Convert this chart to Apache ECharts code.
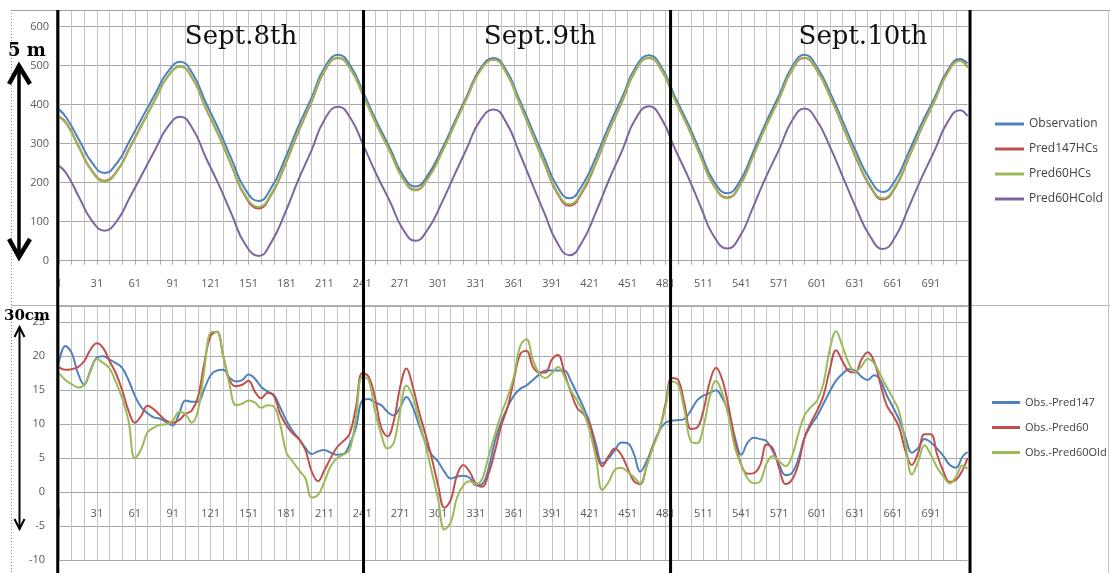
<!DOCTYPE html>
<html><head><meta charset="utf-8">
<script src="https://cdn.jsdelivr.net/npm/echarts@6/dist/echarts.min.js"></script>
<style>html,body{margin:0;padding:0;background:#fff;}#c{width:1110px;height:573px;}</style>
</head><body><div id="c"></div>
<script>
// ---------- categories (time steps) ----------
const categories = [];
for (let i = 1; i <= 720; i++) categories.push(String(i));

// ---------- top panel: tide level (cm) ----------
const topX = [1,7,17,27,37,47,57,67,77,87,97,107,117,128,138,148,159,169,180,190,201,211,222,232,242,252,263,273,283,293,304,314,324,334,345,355,365,375,385,395,405,415,426,436,447,457,468,478,488,499,509,519,530,540,550,560,571,581,591,601,612,622,632,643,653,663,673,683,694,704,714,720];
const observation = [388,366,309,252,225, 251,308,368,427,484,510, 478,407,332,257,185,153, 187,262,341,419,494,528, 498,430,359,288,220,190, 220,286,355,424,490,520, 488,416,340,264,192,160, 193,266,344,421,494,527, 495,424,350,276,205,173, 205,276,351,425,496,528, 496,426,352,278,208,176, 207,275,347,418,486,517, 506];
const pred147HCs = [370,352,290,231,205, 231,290,352,413,472,498, 465,392,316,240,167,134, 169,246,327,408,485,520, 490,422,351,280,212,182, 212,279,349,419,486,516, 482,407,329,250,175,141, 175,251,331,410,486,520, 488,416,341,266,194,162, 194,266,341,416,488,520, 487,415,339,262,190,157, 189,260,335,410,481,513, 497];
const pred60HCs = [368,350,288,229,203, 229,288,350,412,471,497, 465,393,318,242,170,138, 172,249,330,410,487,521, 490,422,351,279,211,180, 210,277,348,418,485,515, 482,408,330,252,178,145, 179,254,333,412,487,521, 489,416,341,265,193,160, 193,265,341,416,489,521, 489,416,341,265,193,160, 192,262,336,410,480,512, 495];
const pred60HCold = [243,223,162,103,77, 103,162,223,284,343,369, 337,266,191,116,44,12, 47,123,204,284,361,395, 364,295,223,151,82,51, 81,149,220,290,358,388, 354,280,201,123,48,14, 48,125,205,285,362,396, 363,290,214,137,64,31, 63,135,211,286,358,390, 358,286,210,134,62,30, 62,133,208,283,354,386, 371];

// ---------- bottom panel: differences (cm) ----------
const bottomX = [1,6,11,16,21,26,31,36,41,46,51,56,61,66,71,76,81,86,91,96,101,106,111,116,121,126,131,136,141,146,151,156,161,166,171,176,181,186,191,196,201,206,211,216,221,226,231,236,241,246,251,256,261,266,271,276,281,286,291,296,301,306,311,316,321,326,331,336,341,346,351,356,361,366,371,376,381,386,391,396,401,406,411,416,421,426,431,436,441,446,451,456,461,466,471,476,481,486,491,496,501,506,511,516,521,526,531,536,541,546,551,556,561,566,571,576,581,586,591,596,601,606,611,616,621,626,631,636,641,646,651,656,661,666,671,676,681,686,691,696,701,706,711,716,720];
const obsPred147 = [19.1,21.5,20.5,17.5,15.8,18,19.8,20,19.5,19,
18.3,16.5,14.2,12.5,11.6,11,10.8,10.3,9.8,11.5,
13.5,13.3,13.3,15.2,17.2,17.9,18,16.8,16.3,16.5,
17.3,16.7,15.5,14.8,14.3,12.5,10.5,9,7.8,6.5,
5.6,6,6.2,5.8,5.5,5.6,7,9.5,13.5,13.7,
13.2,12.8,11.8,11.3,12.5,14,12.5,9.8,7.3,5.5,
4.5,3,2,2.3,2.4,2.1,1,1.2,3.5,7.5,
10.3,12.5,14.2,15.2,15.7,16.5,17.3,17.9,17.9,17.9,
17.9,16.4,14.5,12.5,10.2,7,4.2,5,6.2,7.3,
7.2,5.6,3,4.5,6.8,9,10.2,10.5,10.6,10.8,
12,13.5,14.2,14.6,15,13.8,11.8,8,5.5,7.3,
8,7.8,7.5,6,4,2.5,2.8,4.8,8,9.8,
11.2,13,14.8,16.4,17.4,18.1,17.9,17,16.5,17.2,
16.5,14.3,12.5,10.6,8,5.8,6.5,7.8,7.3,6.4,
5.3,4,3.6,5.2,5.9];
const obsPred60 = [18.4,18,18.1,18.4,19.3,21,21.9,21.2,19.3,17.5,
15,12,10.2,11.2,12.7,12.2,11.3,10.5,10.2,10.6,
11.5,12,14,19,23,23.6,20,16.5,15.6,15.8,
16.4,14.8,13.8,14.6,14.2,11.5,9.8,8.6,7.8,6.2,
3,1.6,3.2,5,6.6,7.5,8.6,12.5,17.5,17,
14,9.5,8.2,10.5,15.5,18.2,15.5,11.8,8.5,5,
1,-2.3,-1.2,2.5,4,3,1.2,0.8,2.7,6,
9.8,12.5,16.5,20.3,20.8,18.5,17.6,17.6,19.5,20.2,
17.5,14.8,12.4,11.5,10,6,3.8,5.3,6.4,5.5,
3.5,1.6,1.2,3.8,6.8,9,13,16.8,16.5,13,
9.3,9.5,12,16.2,18.3,16.5,12.5,7.5,4,2.7,
2.8,4,7,6.4,3.5,1.2,1.8,4,8,10.2,
12,14.2,18,20.9,19.3,17.8,17.6,19.5,20.6,19.3,
16,12.8,11.3,9.5,6,4,5.8,8.5,8.5,5.5,
3,1.5,1.8,3.2,5];
const obsPred60Old = [17.5,16.5,15.9,15.4,15.8,17.8,19.6,19,18.2,16.2,
13.8,10.5,5,6.3,8.8,9.5,9.9,10,10.5,11.8,
11.5,10.2,12,18,23.5,23.6,20,15.8,12.8,13,
13.5,13.2,12.4,12.8,12.6,10,5.8,4.5,3.2,2,
-0.8,-0.4,1.5,3.8,5,5.5,6.2,11,17,16.5,
12,8.5,6.4,7.3,12,15.7,14,10.5,7,3,
-1,-5.5,-4.5,-0.8,1,1.6,1.2,2,5.3,8.5,
11.5,14,17,21.5,22.5,19.5,17.5,16.8,17.5,18.4,
17,15,13.5,11.8,9,5,0.3,1.5,3.3,3.6,
3,2.2,1.3,3.8,6.5,9,12.5,16.3,15.8,12,
7.5,7.2,9.6,14,16.4,14.5,11,6.5,4,2,
1.3,1.6,4.2,5.3,4.5,3.8,5.2,8.5,11.3,12.5,
13.5,16,21,23.7,21.5,19,17.7,18.5,19.6,19,
17.3,15.5,13.8,11.8,7,2.6,4.5,6.9,5.5,3.6,
2.3,1.3,2.3,3.9,3.4];

const topNames = ['Observation','Pred147HCs','Pred60HCs','Pred60HCold'];
const bottomNames = ['Obs.-Pred147','Obs.-Pred60','Obs.-Pred60Old'];
const dayTitles = ['Sept.8th','Sept.9th','Sept.10th'];
const dayBoundaries = [0, 242, 485, 722];   // positions (in time steps) of the day separator lines

// ---------- chart ----------
const pair = (xs, ys) => xs.map((x, k) => [String(x), ys[k]]);
const C = {blue:'#4F81BD', red:'#C0504D', green:'#9BBB59', purple:'#8064A2'};
const lbl = {color:'#595959', fontSize:11, fontFamily:'Open Sans'};
const vGrid = {show:true, interval:9, lineStyle:{color:'#c4c4c4', width:1}};
const hGrid = {show:true, lineStyle:{color:'#a8a8a8', width:1}};

function lineSeries(name, xs, ys, color, gi, sm) {
  return {name, type:'line', xAxisIndex:gi, yAxisIndex:gi, data:pair(xs, ys),
    showSymbol:false, symbol:'none', smooth:sm, lineStyle:{color, width:2}, itemStyle:{color}};
}

const chart = echarts.init(document.getElementById('c'));
chart.setOption({
  animation:false,
  grid:[{left:59, top:10, width:908.5, height:250.7, outerBoundsMode:'none', containLabel:false},
        {left:59, top:306, width:908.5, height:254, outerBoundsMode:'none', containLabel:false}],
  xAxis:[
    {type:'category', gridIndex:0, data:categories, boundaryGap:false,
     axisLine:{lineStyle:{color:'#a6a6a6'}},
     axisTick:{show:true, interval:9, length:4, lineStyle:{color:'#a6a6a6'}},
     axisLabel:Object.assign({interval:29, margin:18}, lbl),
     splitLine:vGrid},
    {type:'category', gridIndex:1, data:categories, boundaryGap:false,
     axisLine:{onZero:false, lineStyle:{color:'#a6a6a6'}},
     axisTick:{show:false},
     axisLabel:Object.assign({interval:29, margin:16}, lbl),
     splitLine:vGrid}
  ],
  yAxis:[
    {type:'value', gridIndex:0, min:0, max:642.8, interval:100,
     axisLine:{show:false}, axisTick:{show:false},
     axisLabel:Object.assign({margin:10, formatter:v => (v % 100 === 0 ? String(v) : '')}, lbl),
     splitLine:hGrid},
    {type:'value', gridIndex:1, min:-10, max:27.4, interval:5,
     axisLine:{show:false}, axisTick:{show:false},
     axisLabel:Object.assign({margin:14, formatter:v => (v % 5 === 0 ? String(v) : '')}, lbl),
     splitLine:hGrid}
  ],
  legend:[
    {data:topNames, orient:'vertical', left:990, top:113, icon:'rect', itemWidth:29, itemHeight:3, itemGap:13,
     textStyle:{fontSize:12, fontFamily:'Open Sans', color:'#404040'}},
    {data:bottomNames, orient:'vertical', left:987, top:392, icon:'rect', itemWidth:28, itemHeight:3, itemGap:14,
     textStyle:{fontSize:11, fontFamily:'Open Sans', color:'#404040'}}
  ],
  series:[
    lineSeries(topNames[0], topX, observation, C.blue, 0, 0.5),
    lineSeries(topNames[1], topX, pred147HCs, C.red, 0, 0.5),
    lineSeries(topNames[2], topX, pred60HCs, C.green, 0, 0.5),
    lineSeries(topNames[3], topX, pred60HCold, C.purple, 0, 0.5),
    lineSeries(bottomNames[0], bottomX, obsPred147, C.blue, 1, 0.4),
    lineSeries(bottomNames[1], bottomX, obsPred60, C.red, 1, 0.4),
    lineSeries(bottomNames[2], bottomX, obsPred60Old, C.green, 1, 0.4)
  ]
});

// bottom category axis sits on the zero line of the difference axis
const yZero = chart.convertToPixel({yAxisIndex:1}, 0);
const yMinPx = chart.convertToPixel({yAxisIndex:1}, -10);
chart.setOption({xAxis:[{}, {offset: yZero - yMinPx}]});

// ---------- decorations ----------
const x1 = chart.convertToPixel({xAxisIndex:0}, '1');
const xN = chart.convertToPixel({xAxisIndex:0}, '720');
const stepPx = (xN - x1) / 719;
const g = [];
// frame lines
g.push({type:'line', shape:{x1:11, y1:10.5, x2:1110, y2:10.5}, style:{stroke:'#a0a0a0', lineWidth:1}, z:50});
g.push({type:'line', shape:{x1:11, y1:305.5, x2:1110, y2:305.5}, style:{stroke:'#b4b4b4', lineWidth:1}, z:50});
g.push({type:'line', shape:{x1:11.5, y1:10, x2:11.5, y2:573}, style:{stroke:'#8a8a8a', lineWidth:1, lineDash:[1,2]}, z:50});
g.push({type:'line', shape:{x1:1108.5, y1:10, x2:1108.5, y2:573}, style:{stroke:'#c4c4c4', lineWidth:1}, z:50});
// day separators
dayBoundaries.forEach(b => {
  const x = x1 + (b - 1) * stepPx;
  g.push({type:'line', shape:{x1:x, y1:10, x2:x, y2:573}, style:{stroke:'#000', lineWidth:3}, z:60});
});
// day titles
const titleX = [241, 540, 863];
dayTitles.forEach((t, k) => {
  g.push({type:'text', x:titleX[k], y:37, z:70,
    style:{text:t, fill:'#111', font:'26px "DejaVu Serif"', align:'center', verticalAlign:'middle'}});
});
// 5 m arrow
g.push({type:'text', x:8, y:51, z:70, style:{text:'5 m', fill:'#000', font:'bold 18px "DejaVu Serif"', align:'left', verticalAlign:'middle'}});
g.push({type:'polyline', shape:{points:[[19,66],[19,256]]}, style:{stroke:'#000', lineWidth:3.5, fill:null}, z:70});
g.push({type:'polyline', shape:{points:[[9,84],[19,66],[30,84]]}, style:{stroke:'#000', lineWidth:4.5, fill:null, lineJoin:'miter'}, z:70});
g.push({type:'polyline', shape:{points:[[9,239],[19,257],[30,239]]}, style:{stroke:'#000', lineWidth:4.5, fill:null, lineJoin:'miter'}, z:70});
// 30cm arrow
g.push({type:'text', x:4, y:316, z:70, style:{text:'30cm', fill:'#000', font:'bold 15px "DejaVu Serif"', align:'left', verticalAlign:'middle'}});
g.push({type:'polyline', shape:{points:[[19.5,328],[19.5,528]]}, style:{stroke:'#000', lineWidth:2, fill:null}, z:70});
g.push({type:'polyline', shape:{points:[[14.5,337],[19.5,327],[24.5,337]]}, style:{stroke:'#000', lineWidth:2, fill:null}, z:70});
g.push({type:'polyline', shape:{points:[[14.5,519],[19.5,529],[24.5,519]]}, style:{stroke:'#000', lineWidth:2, fill:null}, z:70});
chart.setOption({graphic:{elements:g}});
</script>
</body></html>
